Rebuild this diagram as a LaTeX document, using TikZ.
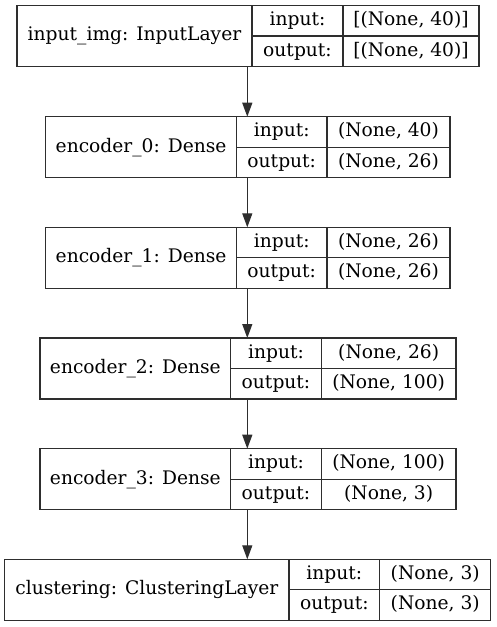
\documentclass[tikz,border=0pt]{standalone}
\usepackage{fontspec}
\setmainfont{DejaVu Serif}
\usetikzlibrary{arrows.meta}

\tikzset{
  frame/.style={draw=black!82, line width=1.3pt},
  layerbox/.style={frame, rectangle, inner sep=0pt, outer sep=0pt},
  cell/.style={inner sep=0pt, anchor=base, text=black,
    font=\fontsize{18.67pt}{22pt}\selectfont},
  flow/.style={draw=black!82, line width=1.3pt,
    -{Triangle[length=14pt,width=10pt]}},
}

% \layer{name}{left}{right}{top}{divider 1}{divider 2}{label}{input shape}{output shape}
\newcommand\layer[9]{%
  \node[layerbox, anchor=north west, minimum width={#3-#2},
        minimum height=61] (#1) at (#2,#4) {};
  \draw[frame] (#5,#4) -- (#5,{#4+61});
  \draw[frame] (#6,#4) -- (#6,{#4+61});
  \draw[frame] (#5,{#4+30.5}) -- (#3,{#4+30.5});
  \node[cell] (#1-lab) at ({(#2+#5)/2},{#4+35.3}) {#7};
  \node[cell] (#1-ik)  at ({(#5+#6)/2},{#4+20.1}) {input:};
  \node[cell] (#1-iv)  at ({(#6+#3)/2},{#4+20.1}) {#8};
  \node[cell] (#1-ok)  at ({(#5+#6)/2},{#4+50.6}) {output:};
  \node[cell] (#1-ov)  at ({(#6+#3)/2},{#4+50.6}) {#9};
}

\begin{document}
\begin{tikzpicture}[x=1pt, y=-1pt]
  \useasboundingbox (0,0) rectangle (496,627);

  \layer{inimg}{17}{479}{5.5}{252}{343}{input\_img: InputLayer}{[(None, 40)]}{[(None, 40)]}
  \layer{enc0}{45.7}{450}{116.7}{236.5}{327}{encoder\_0: Dense}{(None, 40)}{(None, 26)}
  \layer{enc1}{45.7}{450}{227.3}{236.5}{327}{encoder\_1: Dense}{(None, 26)}{(None, 26)}
  \layer{enc2}{40}{456}{338}{230.7}{321.3}{encoder\_2: Dense}{(None, 26)}{(None, 100)}
  \layer{enc3}{40}{456}{448.7}{230.7}{321.3}{encoder\_3: Dense}{(None, 100)}{(None, 3)}
  \layer{clust}{4.7}{490.7}{559.3}{289}{379.7}{clustering: ClusteringLayer}{(None, 3)}{(None, 3)}

  % vertical axis shared by all connectors
  \coordinate (axis) at (247.3,0);
  \draw[flow] (inimg.south -| axis) -- (enc0.north -| axis);
  \draw[flow] (enc0.south -| axis) -- (enc1.north -| axis);
  \draw[flow] (enc1.south -| axis) -- (enc2.north -| axis);
  \draw[flow] (enc2.south -| axis) -- (enc3.north -| axis);
  \draw[flow] (enc3.south -| axis) -- (clust.north -| axis);
\end{tikzpicture}
\end{document}
